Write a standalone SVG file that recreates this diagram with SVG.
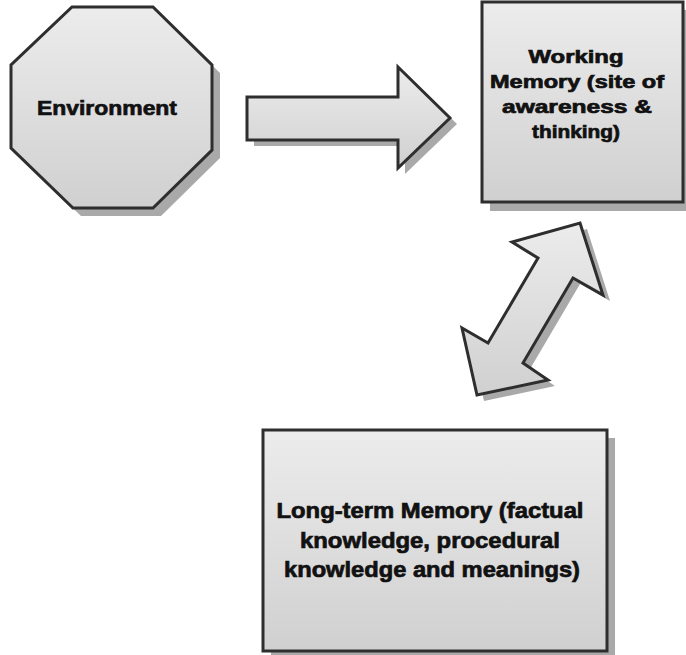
<svg xmlns="http://www.w3.org/2000/svg" width="686" height="655" viewBox="0 0 686 655">
<defs>
<linearGradient id="g" x1="0" y1="0" x2="0" y2="1">
<stop offset="0" stop-color="#ececec"/>
<stop offset="1" stop-color="#d0d0d0"/>
</linearGradient>
<style>
.shape{fill:url(#g);stroke:#2e2e2e;stroke-width:3;stroke-linejoin:miter}
.shadow{fill:#a9a9a9;stroke:none}
.lbl{font-family:"Liberation Sans",Arial,sans-serif;font-weight:bold;fill:#111;stroke:#111;stroke-width:0.7;text-anchor:middle}
</style>
</defs>
<rect width="686" height="655" fill="#ffffff"/>
<g id="environment">
<polygon class="shadow" transform="translate(8,8)" points="72,7 153,7 212,65 212,150 153,208 73,208 11,148 11,65"/>
<polygon class="shape" points="72,7 153,7 212,65 212,150 153,208 73,208 11,148 11,65"/>
<text class="lbl" x="107" y="115" font-size="21" textLength="140" lengthAdjust="spacingAndGlyphs">Environment</text>
</g>
<g id="working-memory">
<rect class="shadow" x="490" y="10" width="201" height="201"/>
<rect class="shape" x="482" y="2" width="201" height="200"/>
<g class="lbl" font-size="18.5">
<text x="576" y="63" textLength="95" lengthAdjust="spacingAndGlyphs">Working</text>
<text x="577" y="88" textLength="174" lengthAdjust="spacingAndGlyphs">Memory (site of</text>
<text x="577" y="113" textLength="150" lengthAdjust="spacingAndGlyphs">awareness &amp;</text>
<text x="576" y="138" textLength="88" lengthAdjust="spacingAndGlyphs">thinking)</text>
</g>
</g>
<g id="long-term-memory">
<rect class="shadow" x="271" y="438" width="344" height="220"/>
<rect class="shape" x="263" y="430" width="344" height="221"/>
<g class="lbl" font-size="22">
<text x="430" y="518" textLength="307" lengthAdjust="spacingAndGlyphs">Long-term Memory (factual</text>
<text x="430" y="548" textLength="260" lengthAdjust="spacingAndGlyphs">knowledge, procedural</text>
<text x="432" y="577" textLength="296" lengthAdjust="spacingAndGlyphs">knowledge and meanings)</text>
</g>
</g>
<g id="connectors">
<polygon class="shadow" transform="translate(7,6)" points="247,97 398,97 398,67 450,118 398,168 398,140 247,140"/>
<polygon class="shape" points="247,97 398,97 398,67 450,118 398,168 398,140 247,140"/>
<polygon class="shadow" transform="translate(7,6)" points="580,223 603,295 573,278 523,363 548,380 477,395 462,328 488,343 538,258 512,242"/>
<polygon class="shape" points="580,223 603,295 573,278 523,363 548,380 477,395 462,328 488,343 538,258 512,242"/>
</g>
</svg>
